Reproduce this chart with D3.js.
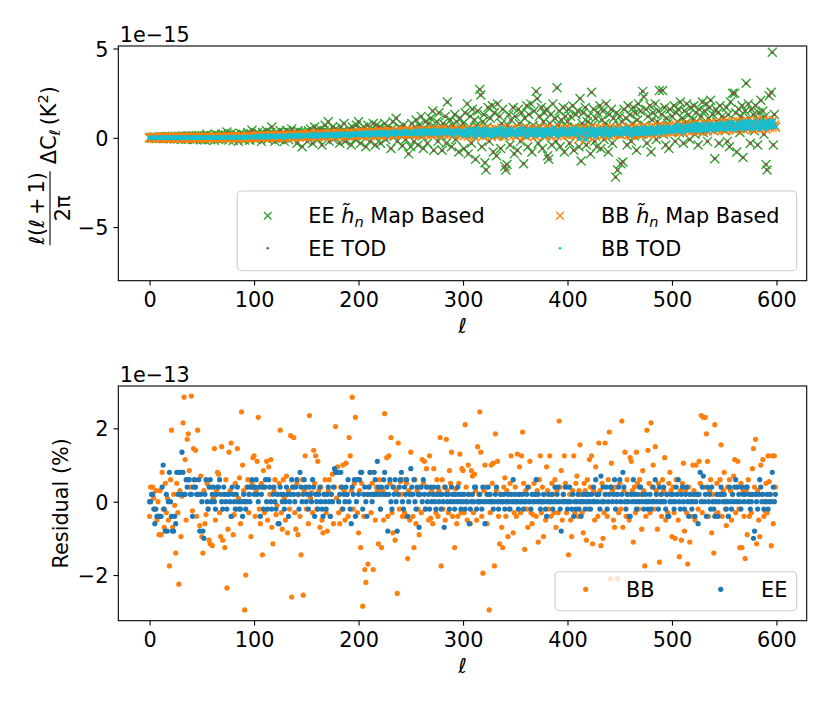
<!DOCTYPE html>
<html><head><meta charset="utf-8">
<script src="https://cdn.jsdelivr.net/npm/d3@7"></script>
<style>body{margin:0;background:#fff} text{font-family:"DejaVu Sans",sans-serif;fill:#000}</style>
</head><body><svg id="c" width="831" height="705"></svg>
<script>
// multipoles
const ell = d3.range(0, 600);
// Top panel: l(l+1)/2pi * DeltaC_l, units of 1e-15 K^2
const eeMap = [
0,.02,-.03,.01,.04,-.02,.03,-.04,.02,.05,
-.03,.04,.01,-.05,.06,.02,-.04,.07,.03,-.06,
.05,-.02,.08,.01,-.07,.06,.03,-.05,.09,.02,
-.08,.05,.1,-.03,.07,-.09,.04,.11,-.06,.08,
.02,-.1,.12,.05,-.08,.1,-.04,.13,.06,-.11,
0,.1,-.05,-.12,.1,.2,.03,-.02,-.1,.12,
.1,.02,-.14,.2,-.03,.15,-.1,.04,.12,.22,
-.02,.1,.05,.14,.32,-.04,-.12,.1,.24,.03,
-.15,.12,.2,.02,.1,-.2,.08,.25,-.05,.13,
.18,-.12,.04,.1,.28,.12,-.14,.22,.42,.02,
.1,.2,-.1,.3,0,.2,.1,-.2,.3,.1,
.2,0,.4,-.1,.2,.1,.3,.6,0,.2,
-.2,.1,.3,.2,-.1,.4,.1,0,.3,-.2,
.2,.4,.1,-.1,.3,.2,.5,0,.1,.3,
.2,-.3,.4,.1,.2,.3,-.5,.1,.3,.2,
.3,-.2,.4,.1,.5,.2,-.3,.3,.6,.1,
.4,-.1,.2,.5,.3,-.4,.2,.4,.7,.1,
.3,.9,-.2,.4,.2,.6,-.1,.3,.5,.2,
.4,.1,-.3,.6,.2,.4,.8,-.2,-.15,.3,
.1,.5,.3,-.4,.6,.2,.4,-.1,.7,.3,
.9,.2,-.3,.5,.1,.6,.3,-.5,.4,.7,
.2,-.2,.5,.3,.8,.1,-.4,.7,.4,.2,
.6,-.3,.3,.5,.1,.8,-.1,.4,.6,.2,
.3,-.6,.5,.9,.1,.4,1.1,-.2,.3,.6,
.2,.5,-.45,.7,.3,-.1,.5,.2,-.9,.4,
-.5,.8,.3,-.2,.6,1.0,.2,-.4,.7,.4,
1.2,.1,-.6,.5,.9,.3,-.3,.8,.4,1.1,
.2,1.5,-.7,.6,.3,.9,-.2,1.4,.5,.1,
-.7,.8,.4,1.2,-.3,2.0,.6,.2,1.0,-.5,
.7,.3,1.3,-.1,.9,.4,-.8,1.1,.5,.2,
.8,-.6,1.4,.3,1.9,-.9,.6,1.2,-.3,1.6,
.2,1.0,-1.2,.7,1.5,.4,2.7,2.4,-.5,.9,
1.3,-1.4,-1.8,.6,1.7,-.2,1.1,.3,1.8,-.8,
1.4,.5,-1.0,1.9,.2,1.2,-.6,.8,1.6,.1,
-1.6,-1.8,-1.5,.7,1.3,-.4,1.0,.5,1.7,-.9,
1.2,.3,-.7,1.6,.8,-.2,1.4,.5,-1.45,1.1,
.6,1.8,-.5,1.3,.2,1.9,-.8,.7,1.5,.4,
2.6,2.2,-.3,1.2,.6,1.7,-.6,.9,1.4,.1,
1.6,-1.0,-1.2,.8,1.3,-.4,1.9,.5,1.1,-.2,
2.8,.7,1.5,-.5,1.0,.3,1.7,-.8,1.2,.6,
.9,1.6,-.3,1.2,.4,1.8,-.7,.6,1.3,.2,
1.5,-.5,2.2,-1.3,.8,1.4,.1,1.7,-.4,.9,
1.2,.5,-.9,2.55,.7,1.6,-.2,1.1,-.5,1.4,
.3,1.8,-.6,1.0,1.5,-.1,.8,1.9,.4,-.8,
1.3,.6,1.6,-.3,1.1,.2,-2.2,1.4,-1.8,.7,
1.2,-1.45,.9,-1.35,1.6,.3,1.1,-.4,1.8,.6,
1.3,-.2,.8,1.7,.1,1.4,-.7,1.0,1.9,.4,
1.5,.2,2.6,2.3,.7,1.6,-.3,1.2,.5,1.8,
-.8,1.0,1.4,.3,1.9,-.1,.9,1.5,2.65,.6,
1.3,2.65,.2,1.7,-.4,1.1,.8,-.6,1.6,.4,
1.2,.5,1.8,-.2,1.4,.9,1.6,.3,2.0,.7,
1.1,-.3,1.5,.8,1.9,.4,1.3,-.1,1.7,.6,
1.0,1.8,.2,1.4,.9,-.4,1.6,.5,1.2,2.0,
.3,1.5,.8,1.9,-.2,1.1,1.7,2.1,.6,1.3,
.4,-1.17,1.6,.9,1.4,-.3,1.8,.7,1.2,.5,
1.1,.4,1.7,-.2,1.3,-.5,2.0,.8,2.5,.6,
2.5,1.4,-.8,.9,1.6,.3,1.2,1.8,-1.1,.7,
1.5,3.05,.5,1.9,1.1,-.3,1.6,.9,1.3,.4,
1.8,.7,-.4,1.4,1.0,2.1,.6,1.5,.2,1.2,
-1.5,-1.8,1.0,2.36,.8,2.55,4.79,-.4,1.3,.6];
// TOD estimate agrees with the map-based one to ~1e-15 relative: same values at plot precision
const eeTod = eeMap;
const bbMap = [
0,.02,-.02,.01,.03,-.01,.02,-.03,.01,.02,
-.02,.03,0,-.01,.02,.04,-.02,.01,.03,-.03,
.02,0,.04,-.02,.01,.03,-.01,.02,-.03,.04,
0,.02,-.02,.03,.01,-.03,.04,.02,-.01,.03,
.01,-.02,.04,0,.03,-.03,.02,.05,-.01,.02,
.02,0,.03,-.01,.04,.01,0,.03,.02,-.02,
.01,.04,.02,0,.05,.01,-.01,.03,.02,.04,
0,.03,.05,.01,-.02,.04,.02,.06,0,.03,
.05,.01,.04,-.01,.03,.06,.02,.04,.01,.05,
.03,-.02,.06,.02,.04,.07,.01,.05,.03,.06,
.05,.1,.02,.08,.12,.04,.09,-.01,.11,.06,
.03,.13,.07,.1,.01,.09,.14,.05,.08,.11,
.02,.12,.06,.15,.04,.1,.08,.13,-.02,.09,
.11,.05,.14,.07,.1,.16,.03,.12,.08,.15,
.06,.11,.17,.04,.13,.09,.16,.07,.12,.1,
.14,.08,.18,.1,.2,.06,.15,.12,.22,.09,
.17,.04,.19,.13,.21,.1,.16,.07,.2,.14,
.11,.23,.08,.18,.15,.24,.12,.19,.05,.2,
.16,.25,.1,.21,.14,.18,.27,.11,.22,.16,
.2,.09,.24,.17,.26,.13,.21,.18,.28,.15,
.22,.14,.27,.18,.3,.12,.25,.2,.32,.16,
.24,.1,.29,.21,.33,.17,.26,.13,.31,.22,
.19,.35,.15,.28,.24,.34,.18,.3,.12,.27,
.23,.36,.2,.31,.16,.28,.38,.22,.33,.25,
.29,.18,.35,.24,.4,.21,.32,.27,.37,.23,
.3,.18,.35,.24,.4,.2,.32,.27,.42,.22,
.34,.15,.38,.29,.44,.21,.33,.26,.41,.3,
.19,.45,.24,.36,.28,.43,.17,.37,.31,.4,
.25,.46,.2,.35,.29,.39,.48,.23,.34,.3,
.38,.16,.42,.27,.36,.33,.45,.21,.39,.3,
.28,.12,.4,.2,.47,.1,.33,.26,.5,.18,
.36,.05,.42,.24,.55,.15,.3,.22,.45,.09,
.38,.28,.52,.14,.34,.2,.46,.07,.4,.3,
.17,.5,.25,.38,.11,.44,.29,.56,.2,.33,
.08,.41,.26,.48,.15,.36,.23,.51,.3,.19,
.35,.1,.44,.22,.5,.18,.31,.27,.54,.13,
.4,.06,.37,.25,.48,.16,.33,.21,.46,.11,
.39,.28,.53,.15,.36,.24,.47,.08,.42,.3,
.19,.5,.26,.35,.12,.45,.3,.57,.22,.34,
.1,.43,.27,.49,.17,.38,.24,.52,.31,.2,
.33,.14,.46,.23,.51,.19,.36,.28,.55,.15,
.42,-.05,.38,.26,.49,.17,.35,-.1,.47,.12,
.4,.29,.54,.16,.37,.25,.5,.09,.44,.31,
.2,.52,.27,.36,.13,.46,.32,.58,.23,.35,
.11,.45,.28,.5,.18,.39,.25,.53,.32,.21,
.36,.17,.48,.26,.54,.22,.39,.31,.58,.19,
.45,.13,.42,.3,.53,.21,.4,.27,.56,.18,
.47,.34,.6,.23,.43,.31,.57,.2,.5,.38,
.27,.6,.35,.44,.22,.55,.4,.65,.31,.46,
.25,.56,.38,.62,.3,.5,.36,.64,.44,.33,
.52,.32,.63,.42,.7,.37,.55,.47,.74,.36,
.6,.3,.58,.46,.71,.4,.56,.44,.75,.38,
.64,.5,.78,.41,.6,.49,.76,.35,.67,.54,
.43,.8,.52,.62,.39,.73,.57,.82,.48,.63,
.4,.74,.55,.8,.45,.68,.52,.84,.6,.47,
.7,.45,.82,.58,.88,.5,.72,.62,.9,.48,
.76,.42,.74,.6,.87,.53,.7,.57,.92,.46,
.79,.63,.95,.52,.75,.61,.9,.47,.83,.66,
.55,.96,.64,.78,.5,.89,.7,.98,.58,.77,
.49,.86,.66,.94,.56,.8,.62,.97,.72,.6];
const bbTod = bbMap;
// Bottom panel: residual (%), units of 1e-13
const resBB = [
-.4,.4,.2,.4,.1,-.2,.3,-.5,0,-.9,
.3,-.9,.8,-.2,-.7,.5,-.3,.1,-.5,-1.75,
.6,1.95,-.7,.2,-.1,-1.4,.5,-.3,-2.25,.3,
-.95,.15,2.15,2.85,1.15,-.5,1.7,1.85,.85,.4,
2.88,-.25,1.45,.6,1.4,-.4,1.95,.2,-.65,.7,
-.95,-1.4,.3,-.6,-.35,.5,-.2,-1.05,-1.15,.4,
-1.2,.1,1.45,-.5,.3,.8,.75,-.3,-.95,1.5,
-1.05,.2,-1.25,.6,-2.35,-.75,1.35,.3,1.6,-.4,
-.9,-.35,.5,-.2,1.45,.1,.65,-.6,2.45,1.0,
.3,-2.95,-2.0,.4,.6,-.3,.2,-.95,.5,1.2,
1.25,-.4,.3,1.1,2.3,-.2,-.6,.5,-1.45,.85,
-.3,.4,1.1,-.5,.95,.2,1.15,-.7,-1.15,.3,
.6,-.35,-.1,.2,.5,1.95,-.3,-.75,.6,.1,
-.5,.7,-.85,.3,-.2,1.8,-2.6,.4,1.75,-.3,
-.75,.5,-.9,.2,-.4,-1.45,.6,-2.55,.3,1.25,
-.2,.4,-.6,2.35,.1,.25,-.3,1.4,.5,1.25,
-.2,1.1,.3,-.7,.4,-.5,-.85,.2,.6,-.3,
-.8,.3,.6,-.4,.2,.75,-.6,.4,2.05,.1,
.95,-.3,-.6,.4,-.2,1.0,.3,-.5,1.05,.2,
-.4,1.75,1.25,.3,2.85,-.2,.5,2.3,.6,-.3,
-.85,.3,-1.25,.5,-2.85,-.4,-1.85,-2.2,.2,-1.7,
.4,.8,-.3,.5,-1.85,.2,-.5,.4,.3,-1.15,
.6,-.2,-1.25,.3,-.5,2.4,.2,1.2,-.4,1.25,
.5,1.75,-.3,-.85,.4,-1.05,.3,-2.5,1.6,-.2,
.55,.2,-.4,.6,-.3,-.4,.5,-1.55,.3,-.5,
1.35,.2,-.4,-1.25,.6,-.6,.3,-.2,-.9,.4,
-.3,1.15,.5,1.1,-.2,.9,.4,-.5,1.25,-.45,
.3,-.6,.9,.2,-.3,.6,-.4,.3,1.75,-1.75,
.6,-.2,.4,-.5,1.7,.3,-.3,.85,.5,1.35,
-.4,.2,-1.25,.35,-.6,-.4,.5,1.3,-.3,.9,
.85,-.3,2.1,.4,-.5,1.0,.2,-.6,.85,.7,
-.3,.75,.3,-.5,1.5,.2,2.45,1.35,-.4,-1.95,
.3,1.0,.4,-.6,.2,-2.95,-.3,1.0,.5,1.05,
-1.75,1.85,.3,1.1,-.4,-1.15,.2,-.7,-1.25,.4,
.65,-.4,.3,-.95,-.2,.5,1.25,.2,-.85,-.3,
.4,-.4,1.3,.2,.95,-.3,1.25,1.9,.5,-1.3,
.3,-.2,-.7,.4,1.1,-.3,-.6,-.35,.5,.2,
-.4,.3,-1.1,.6,1.25,-.3,.4,-.95,.2,-.5,
.95,.3,-.2,1.25,-.4,.5,.2,-.3,.6,-.7,
.3,-.3,2.2,.4,.85,-.5,.2,1.25,.5,-.3,
.4,-1.45,.2,-.5,-.95,.3,1.25,-.3,.5,.7,
-.4,.3,1.55,.2,-.3,-.85,.5,.3,-1.05,.6,
-.2,1.15,.4,1.25,-1.15,.3,-.5,.95,.2,-.4,
1.6,.3,-1.2,.5,-1.0,-.3,1.6,.2,-.4,.6,
1.9,-2.1,1.05,.3,-.5,-.7,.4,.2,-2.1,-.3,
.5,-.2,2.2,-.7,.3,1.35,-.4,.6,.2,-.5,
1.2,1.1,.3,-1.1,.4,-.3,1.35,.5,-.2,.6,
.2,-.75,.85,.3,-1.75,-.4,1.95,1.4,.5,-.3,
2.15,.4,1.0,-.2,1.5,.3,-.75,.5,-1.65,.2,
-.4,.6,.3,1.2,-.5,.2,-.3,.5,.8,.3,
-.95,.4,-.3,-1.0,.6,.2,-.5,-1.5,.3,-1.05,
.5,1.05,-.8,.3,-.3,-1.7,.4,-1.1,.2,-.4,
1.0,.3,-.5,1.0,.2,-.2,1.1,.5,2.35,-.3,
2.3,.4,2.3,1.85,1.1,-.4,.3,.6,-.85,.2,
-1.4,2.1,-.35,.5,-.3,.2,.6,1.55,-.4,.3,
.8,-.2,-.65,.4,-.4,.6,.3,-.5,.2,.7,
1.15,-.3,.4,1.1,-.2,-1.25,.5,-1.25,.3,-.4,
-1.55,.3,-.9,.6,-.4,.2,-.3,.9,1.45,.4,
1.7,-1.15,.3,-.5,-.95,1.0,.2,1.15,-.4,-.25,
.5,-.3,1.25,.55,.2,-1.2,1.25,-.6,1.25,.4];
const resEE = [
0,0,.2,.2,-.2,-.6,-.2,-.4,-.4,-.4,
-.4,-.4,.4,1.0,-.2,-.8,.2,-.8,0,.8,
0,-.4,-.8,-.8,-.4,-.6,.8,.2,.8,.8,
.2,1.35,.8,.2,.2,.6,.4,.6,.6,.2,
.2,-.4,.4,.6,.4,.2,.2,.6,-.8,.2,
0,-.8,-1.0,.2,.6,0,-.2,.4,.6,0,
.2,.4,0,-.2,.2,.4,.4,.6,.2,0,
-.2,.4,.2,0,-.2,.2,.2,0,-.4,.4,
.2,0,-.2,.2,.4,0,-.2,-.2,0,-.4,
.2,0,-.2,0,.4,.2,0,.4,.6,.4,
.2,.4,.6,.2,0,.4,-.4,.2,.4,-.2,
.4,.6,0,-.2,.6,.4,0,-.2,.2,.4,
0,-.2,.2,-.6,-.6,.4,.2,0,.2,-.2,
0,.4,.2,-.4,0,.2,.6,.4,.2,0,
.4,.6,.2,-.2,.8,.4,0,.2,.6,.4,
0,.2,-.2,.4,.2,0,.6,.4,-.4,.2,
0,-.2,.2,.4,0,-.2,-.4,.2,0,-.2,
.2,.4,0,-.4,.2,0,.4,.9,.8,.8,
.8,0,.2,.8,.4,-.2,.2,0,.4,.2,
.6,0,-.2,-.6,.4,.2,.6,-.4,0,.6,
.2,.6,.8,.8,-.2,.2,.4,0,-.4,.2,
.4,.8,.2,0,.2,.8,.6,.2,1.1,.4,
.2,-.2,.4,.2,.6,.8,.2,.4,-.8,.2,
.6,0,-.2,.4,.2,.6,0,-.8,.2,.4,
.6,.8,0,-.2,.4,.2,.6,-.4,0,.2,
.9,.4,.2,.6,0,-.2,.4,.2,-.7,.2,
.4,0,.6,.2,-.2,.4,0,.2,-.2,.4,
0,.2,.4,0,-.2,.2,.4,0,.2,-.2,
.2,0,-.7,.4,.2,0,.2,-.2,0,.4,
.2,0,-.2,.2,0,.4,.2,0,-.2,.2,
0,.2,-.2,0,0,.2,-.6,-.2,0,.2,
0,.4,.4,-.2,0,0,.2,0,-.2,.4,
0,-.6,0,.2,.4,0,.2,0,0,-.2,
0,.2,.4,0,-.2,0,.2,0,0,.2,
-.2,0,0,.2,0,-.2,.2,0,.6,0,
.2,0,0,-.2,.2,0,0,.2,-.2,0,
0,.2,.4,0,0,-.2,.2,0,0,.2,
.6,0,.2,0,-.2,0,0,.2,0,-.2,
-.4,0,.2,0,0,.2,-.2,0,.4,0,
.2,.4,0,-.2,-.8,0,.2,0,.4,0,
-.2,0,.4,0,-.2,.2,-.4,0,-.2,0,
.2,-.2,0,-.4,0,.2,0,-.2,.2,0,
.2,0,-.2,.2,0,.4,0,.6,.2,0,
.2,-.2,.7,0,.4,0,.2,.4,-.2,0,
.2,.4,.4,0,.2,.6,-.2,0,.2,.4,
.6,0,.2,.8,.4,0,-.2,.2,0,-.4,
-.4,.2,0,.6,.2,0,-.2,.2,0,.4,
.4,0,.2,-.2,0,.2,0,-.2,0,.2,
-.2,0,.4,0,.6,.2,0,-.2,.4,0,
.2,0,.4,0,-.2,.2,-.4,-.4,0,.2,
0,.2,-.2,0,.4,.2,.6,0,-.2,.2,
.4,0,-.2,.2,.4,0,-.4,.2,0,-.2,
0,.2,-.4,0,.2,-.6,.2,.8,0,.4,
.7,0,.2,-.4,.4,0,.2,-.2,.4,0,
-.2,-.4,0,.2,-.4,0,.2,.4,.2,0,
.2,0,-.2,0,-.4,.4,0,-.2,.2,0,
.4,.6,0,.4,.2,0,-.2,.4,.2,0,
.2,.4,.4,0,.2,-.2,0,.2,-1.0,-.8,
.2,0,-.2,.2,.6,.4,0,.2,-.2,0,
0,.2,-.2,0,.2,0,.8,.4,0,.2];
const xTicks = [0,100,200,300,400,500,600];
const yTicksTop = [-5,0,5];
const yTicksBot = [-2,0,2];
const topLegend = [
  {label:'EE', kind:'x', color:'#2ca02c', col:0, row:0},
  {label:'BB', kind:'x', color:'#ff7f0e', col:1, row:0},
  {label:'EE TOD', kind:'dot', color:'#8c564b', col:0, row:1},
  {label:'BB TOD', kind:'dot', color:'#17becf', col:1, row:1}];
const botLegend = [{label:'BB', color:'#ff7f0e'},{label:'EE', color:'#1f77b4'}];

const svg = d3.select('#c');
const FS = 20.8;
const L = 118.3, R = 806.7;
const P1 = {top:46, bottom:280.7}, P2 = {top:386, bottom:620.7};
const x = d3.scaleLinear().domain([-29.95, 628.95]).range([L, R]);
const yTop = d3.scaleLinear().domain([-8, 5.14]).range([P1.bottom, P1.top]);
const yBot = d3.scaleLinear().domain([-3.245, 3.155]).range([P2.bottom, P2.top]);
const fmt = d => d < 0 ? '\u2212' + Math.abs(d) : String(d);
const XH = 4.5;
const xPath = `M${-XH},${-XH}L${XH},${XH}M${-XH},${XH}L${XH},${-XH}`;

function drawX(g, vals, y, color) {
  g.append('g').selectAll('path').data(vals).join('path')
    .attr('d', xPath).attr('transform', (d,i) => `translate(${x(ell[i])},${y(d)})`)
    .attr('fill','none').attr('stroke', color).attr('stroke-width', 1.35);
}
function drawDots(g, vals, y, color, r) {
  g.append('g').selectAll('circle').data(vals).join('circle')
    .attr('cx', (d,i) => x(ell[i])).attr('cy', d => y(d)).attr('r', r).attr('fill', color);
}
function frame(P, y, yt, offText) {
  svg.append('rect').attr('x', L).attr('y', P.top).attr('width', R-L).attr('height', P.bottom-P.top)
    .attr('fill','none').attr('stroke','#000').attr('stroke-width',1.1);
  const gx = svg.append('g').attr('transform', `translate(0,${P.bottom})`)
    .call(d3.axisBottom(x).tickValues(xTicks).tickSize(4.9).tickPadding(4.9).tickFormat(fmt));
  const gy = svg.append('g').attr('transform', `translate(${L},0)`)
    .call(d3.axisLeft(y).tickValues(yt).tickSize(4.9).tickPadding(4.9).tickFormat(fmt));
  [gx, gy].forEach(g => {
    g.select('.domain').remove();
    g.selectAll('line').attr('stroke','#000').attr('stroke-width',1.1);
    g.selectAll('text').attr('font-size', FS).attr('font-family','DejaVu Sans').attr('fill','#000');
  });
  gx.selectAll('text').attr('dy','0.78em');
  gy.selectAll('text').attr('dy','0.36em');
  svg.append('text').attr('x', L+1.5).attr('y', P.top-4.5).attr('font-size', FS).text(offText);
  svg.append('text').attr('x', (L+R)/2).attr('y', P.bottom+52).attr('text-anchor','middle')
    .attr('font-size', FS).attr('font-style','italic').text('\u2113');
}

// ---- top panel
const g1 = svg.append('g');
drawX(g1, eeMap, yTop, '#2ca02c');
drawDots(g1, eeTod, yTop, '#8c564b', 1.6);
drawX(g1, bbMap, yTop, '#ff7f0e');
drawDots(g1, bbTod, yTop, '#17becf', 2.2);
frame(P1, yTop, yTicksTop, '1e\u221215');

// top y label (math)
const yl = svg.append('g').attr('transform','translate(0,163.3) rotate(-90)');
const num = yl.append('text').attr('x',-45).attr('y',43.5).attr('text-anchor','middle').attr('font-size',FS);
num.append('tspan').attr('font-style','italic').text('\u2113');
num.append('tspan').text('(');
num.append('tspan').attr('font-style','italic').text('\u2113');
num.append('tspan').text('\u2009+\u20091)');
yl.append('line').attr('x1',-82).attr('x2',-8).attr('y1',50).attr('y2',50).attr('stroke','#000').attr('stroke-width',1.1);
yl.append('text').attr('x',-45).attr('y',70).attr('text-anchor','middle').attr('font-size',FS).text('2\u03c0');
const rest = yl.append('text').attr('x',-1).attr('y',56).attr('font-size',FS);
rest.append('tspan').text('\u0394C');
rest.append('tspan').attr('dy',4).attr('font-size',14.6).attr('font-style','italic').text('\u2113');
rest.append('tspan').attr('dy',-4).text('\u2009(K');
rest.append('tspan').attr('dy',-8).attr('font-size',14.6).text('2');
rest.append('tspan').attr('dy',8).text(')');

// top legend
const lg1 = svg.append('g');
lg1.append('rect').attr('x',237.3).attr('y',191).attr('width',796.7-237.3).attr('height',270.7-191)
  .attr('rx',4.2).attr('fill','#fff').attr('fill-opacity',0.8).attr('stroke','#cccccc').attr('stroke-width',1.1);
const colX = [267.7, 560], rowY = [215.7, 248.3], txX = [308.3, 601], txY = [222.8, 256];
topLegend.forEach(e => {
  const mx = colX[e.col], my = rowY[e.row];
  if (e.kind === 'x') lg1.append('path').attr('d', `M-3.8,-3.8L3.8,3.8M-3.8,3.8L3.8,-3.8`).attr('transform',`translate(${mx},${my})`)
      .attr('fill','none').attr('stroke',e.color).attr('stroke-width',1.35);
  else lg1.append('circle').attr('cx',mx).attr('cy',my).attr('r',1.3).attr('fill',e.color);
  const t = lg1.append('text').attr('x',txX[e.col]).attr('y',txY[e.row]).attr('font-size',FS);
  if (e.kind === 'x') {
    t.append('tspan').text(e.label + ' ');
    t.append('tspan').attr('font-style','italic').text('h\u0303');
    t.append('tspan').attr('font-style','italic').attr('font-size',14.6).attr('dy',4).text('n');
    t.append('tspan').attr('dy',-4).text(' Map Based');
  } else t.text(e.label);
});

// ---- bottom panel
const g2 = svg.append('g');
drawDots(g2, resBB, yBot, '#ff7f0e', 2.6);
drawDots(g2, resEE, yBot, '#1f77b4', 2.6);
frame(P2, yBot, yTicksBot, '1e\u221213');
svg.append('text').attr('transform','translate(67.8,503.3) rotate(-90)').attr('text-anchor','middle')
  .attr('font-size',FS).text('Residual (%)');
const lg2 = svg.append('g');
lg2.append('rect').attr('x',555).attr('y',571.7).attr('width',796.7-555).attr('height',610.7-571.7)
  .attr('rx',4.2).attr('fill','#fff').attr('fill-opacity',0.8).attr('stroke','#cccccc').attr('stroke-width',1.1);
const bx = [585.7, 720.7], btx = [626, 761];
botLegend.forEach((e,i) => {
  lg2.append('circle').attr('cx',bx[i]).attr('cy',589.3).attr('r',2.6).attr('fill',e.color);
  lg2.append('text').attr('x',btx[i]).attr('y',596.7).attr('font-size',FS).text(e.label);
});
</script></body></html>
